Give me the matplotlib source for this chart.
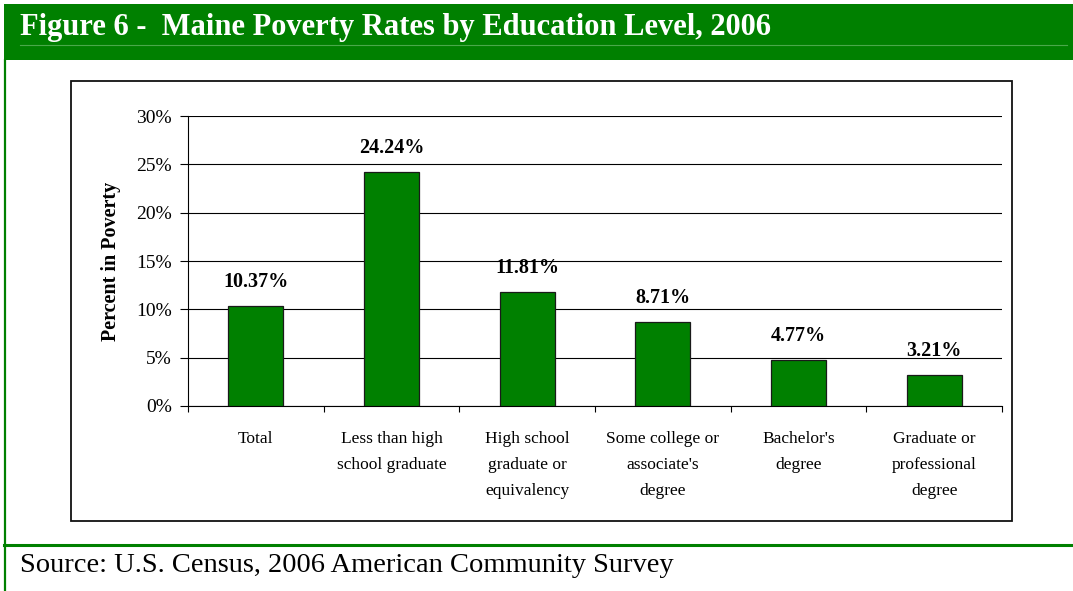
import matplotlib
matplotlib.use("Agg")
import matplotlib.pyplot as plt
from matplotlib.patches import Rectangle
from matplotlib.lines import Line2D

categories = ["Total", "Less than high\nschool graduate", "High school\ngraduate or\nequivalency",
              "Some college or\nassociate's\ndegree", "Bachelor's\ndegree", "Graduate or\nprofessional\ndegree"]
values = [10.37, 24.24, 11.81, 8.71, 4.77, 3.21]
value_labels = ["10.37%", "24.24%", "11.81%", "8.71%", "4.77%", "3.21%"]
yticks = [0, 5, 10, 15, 20, 25, 30]
ytick_labels = ["0%", "5%", "10%", "15%", "20%", "25%", "30%"]

title = "Figure 6 -  Maine Poverty Rates by Education Level, 2006"
source = "Source: U.S. Census, 2006 American Community Survey"

W, H = 1073, 591
GREEN = "#008000"
SERIF = ["Liberation Serif", "DejaVu Serif"]
plt.rcParams["font.family"] = SERIF

fig = plt.figure(figsize=(W / 100, H / 100), dpi=100)

def fx(px):
    return px / W

def fy(py):
    return 1 - py / H

# header band
fig.patches.append(Rectangle((fx(4), fy(60)), fx(W - 4), 56 / H, transform=fig.transFigure,
                             facecolor=GREEN, edgecolor="none", zorder=-2))
fig.lines.append(Line2D([fx(20), fx(1067)], [fy(45), fy(45)], transform=fig.transFigure,
                        color="#4aa84a", lw=0.8, zorder=-1))
# left border and bottom separator
fig.lines.append(Line2D([fx(5), fx(5)], [fy(60), 0], transform=fig.transFigure, color=GREEN, lw=1.6, zorder=-1))
fig.lines.append(Line2D([fx(4), 1], [fy(545), fy(545)], transform=fig.transFigure, color=GREEN, lw=2.2, zorder=-1))
# chart frame
fig.patches.append(Rectangle((fx(71), fy(521)), fx(1012 - 71), (521 - 81) / H, transform=fig.transFigure,
                             facecolor="white", edgecolor="#111111", lw=1.3, zorder=-2))

fig.text(fx(20), fy(27), title, color="white", fontsize=22, fontweight="bold", va="center", ha="left")
fig.text(fx(20), fy(565), source, color="black", fontsize=20.5, va="center", ha="left")

ax = fig.add_axes([fx(188), fy(406), fx(1002 - 188), (406 - 116) / H])
ax.set_zorder(2)
ax.patch.set_alpha(0)
x = list(range(len(values)))
bars = ax.bar(x, values, width=0.405, color=GREEN, edgecolor="#1a1a1a", linewidth=0.9, zorder=3)
for xi, v, lab in zip(x, values, value_labels):
    ax.annotate(lab, (xi, v), xytext=(0, 17), textcoords="offset points", ha="center", va="center",
                fontsize=14.5, fontweight="bold")

ax.set_xlim(-0.5, len(values) - 0.5)
ax.set_ylim(0, 30)
ax.set_yticks(yticks)
ax.set_yticklabels(ytick_labels, fontsize=14)
ax.yaxis.grid(True, color="black", lw=0.8, zorder=0)
ax.set_axisbelow(True)

ax.set_xticks([i - 0.5 for i in range(len(values) + 1)])
ax.set_xticklabels([])
ax.set_xticks(x, minor=True)
ax.set_xticklabels(categories, minor=True, fontsize=12.5, linespacing=1.82, va="top")
ax.tick_params(axis="x", which="minor", length=0, pad=18)
ax.tick_params(axis="x", which="major", length=4.5, width=0.8)
ax.tick_params(axis="y", length=5.5, width=0.8, pad=6)

for s in ["top", "right"]:
    ax.spines[s].set_visible(False)
ax.spines["left"].set_linewidth(0.8)
ax.spines["bottom"].set_linewidth(0.8)

ax.set_ylabel("Percent in Poverty", fontsize=14.5, fontweight="bold", labelpad=11)

fig.savefig("out.png", dpi=100)
